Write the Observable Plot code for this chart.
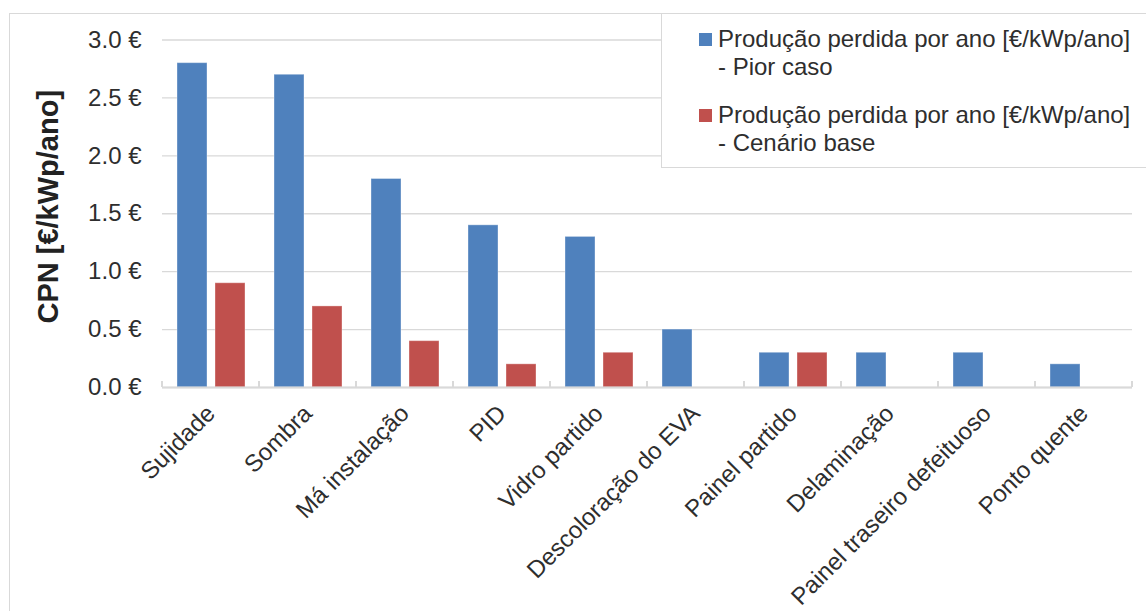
<!DOCTYPE html>
<html>
<head>
<meta charset="utf-8">
<script src="https://cdn.jsdelivr.net/npm/d3@7"></script>
<script src="https://cdn.jsdelivr.net/npm/@observablehq/plot@0.6"></script>
<style>
  html, body { margin: 0; padding: 0; background: #fff; }
  #chart { position: relative; width: 1146px; height: 611px; overflow: hidden;
           font-family: "Liberation Sans", Arial, sans-serif; color: #2e2e2e; }
  #frame { position: absolute; left: 9px; top: 13px; width: 1300px; height: 800px;
           border: 1px solid #d9d9d9; box-sizing: border-box; }
  #plot { position: absolute; left: 0; top: 0; }
  #legend { position: absolute; left: 661px; top: 13px; width: 700px; height: 155px;
            border: 1px solid #d9d9d9; background: #fff; box-sizing: border-box; }
  .item { position: absolute; left: 56px; font-size: 24px; line-height: 27.5px; white-space: nowrap; }
  .swatch { position: absolute; left: -19px; top: 8px; width: 13px; height: 13px; }
</style>
</head>
<body>
<div id="chart">
  <div id="frame"></div>
  <div id="plot"></div>
  <div id="legend"></div>
</div>
<script>
// Custo de produção perdida (CPN) por tipo de falha
const categories = [
  "Sujidade", "Sombra", "Má instalação", "PID", "Vidro partido",
  "Descoloração do EVA", "Painel partido", "Delaminação",
  "Painel traseiro defeituoso", "Ponto quente"
];
const piorCaso    = [2.8, 2.7, 1.8, 1.4, 1.3, 0.5, 0.3, 0.3, 0.3, 0.2];
const cenarioBase = [0.9, 0.7, 0.4, 0.2, 0.3, 0.0, 0.3, 0.0, 0.0, 0.0];
const yTicks = [0, 0.5, 1, 1.5, 2, 2.5, 3];

const seriesNames = [
  ["Produção perdida por ano [€/kWp/ano]", "- Pior caso"],
  ["Produção perdida por ano [€/kWp/ano]", "- Cenário base"]
];
const seriesColors = ["#4f81bd", "#c0504d"];
const yTitle = "CPN [€/kWp/ano]";

const rowsPior = categories.map((c, i) => ({category: c, value: piorCaso[i]}));
const rowsBase = categories.map((c, i) => ({category: c, value: cenarioBase[i]})).filter(d => d.value > 0);

// small tick marks on the category boundaries, drawn from the band scale
function bandEdgeTicks(index, scales, values, dimensions) {
  const sx = scales.x, sy = scales.y;
  let bw = typeof sx.bandwidth === "function" ? sx.bandwidth() : sx.bandwidth;
  if (!bw) bw = (dimensions.width - dimensions.marginLeft - dimensions.marginRight) / categories.length;
  const edges = categories.map(c => sx(c)).concat([sx(categories[categories.length - 1]) + bw]);
  const y0 = sy(0);
  const g = d3.create("svg:g");
  g.selectAll("line").data(edges).join("line")
    .attr("x1", d => d).attr("x2", d => d)
    .attr("y1", y0).attr("y2", y0 - 6)
    .attr("stroke", "#d9d9d9").attr("stroke-width", 2);
  return g.node();
}

const chart = Plot.plot({
  width: 1146,
  height: 611,
  marginLeft: 162,
  marginRight: 14,
  marginTop: 39.5,
  marginBottom: 224,
  style: {fontFamily: '"Liberation Sans", Arial, sans-serif', fontSize: "24px", color: "#2e2e2e", background: "transparent", overflow: "visible"},
  x: {domain: categories, padding: 0, label: null},
  y: {domain: [0, 3], label: null},
  marks: [
    Plot.gridY(yTicks, {stroke: "#d9d9d9", strokeOpacity: 1, strokeWidth: 1.3}),
    Plot.axisY(yTicks, {tickSize: 0, tickPadding: 21, tickFormat: d => d.toFixed(1) + " €", fontSize: 24}),
    Plot.axisX({tickSize: 0, tickRotate: -45, tickPadding: 22, fontSize: 24, label: null}),
    Plot.barY(rowsPior, {x: "category", y: "value", fill: seriesColors[0], insetLeft: 15, insetRight: 52,
                         stroke: "#fff", strokeOpacity: 0.35, strokeWidth: 1}),
    Plot.barY(rowsBase, {x: "category", y: "value", fill: seriesColors[1], insetLeft: 53, insetRight: 14,
                         stroke: "#fff", strokeOpacity: 0.35, strokeWidth: 1}),
    Plot.ruleY([0], {stroke: "#d9d9d9", strokeWidth: 2}),
    bandEdgeTicks,
    Plot.text([yTitle], {text: d => d, frameAnchor: "left", textAnchor: "middle", lineAnchor: "middle",
                         rotate: -90, dx: -114, dy: -7,
                         fontWeight: "bold", fontSize: 29, fill: "#222"})
  ]
});
document.getElementById("plot").appendChild(chart);

// legend
const legend = d3.select("#legend");
const tops = [11, 87];
seriesNames.forEach((lines, i) => {
  const item = legend.append("div").attr("class", "item").style("top", tops[i] + "px");
  item.append("div").attr("class", "swatch").style("background", seriesColors[i]);
  lines.forEach(t => item.append("div").text(t));
});
</script>
</body>
</html>
